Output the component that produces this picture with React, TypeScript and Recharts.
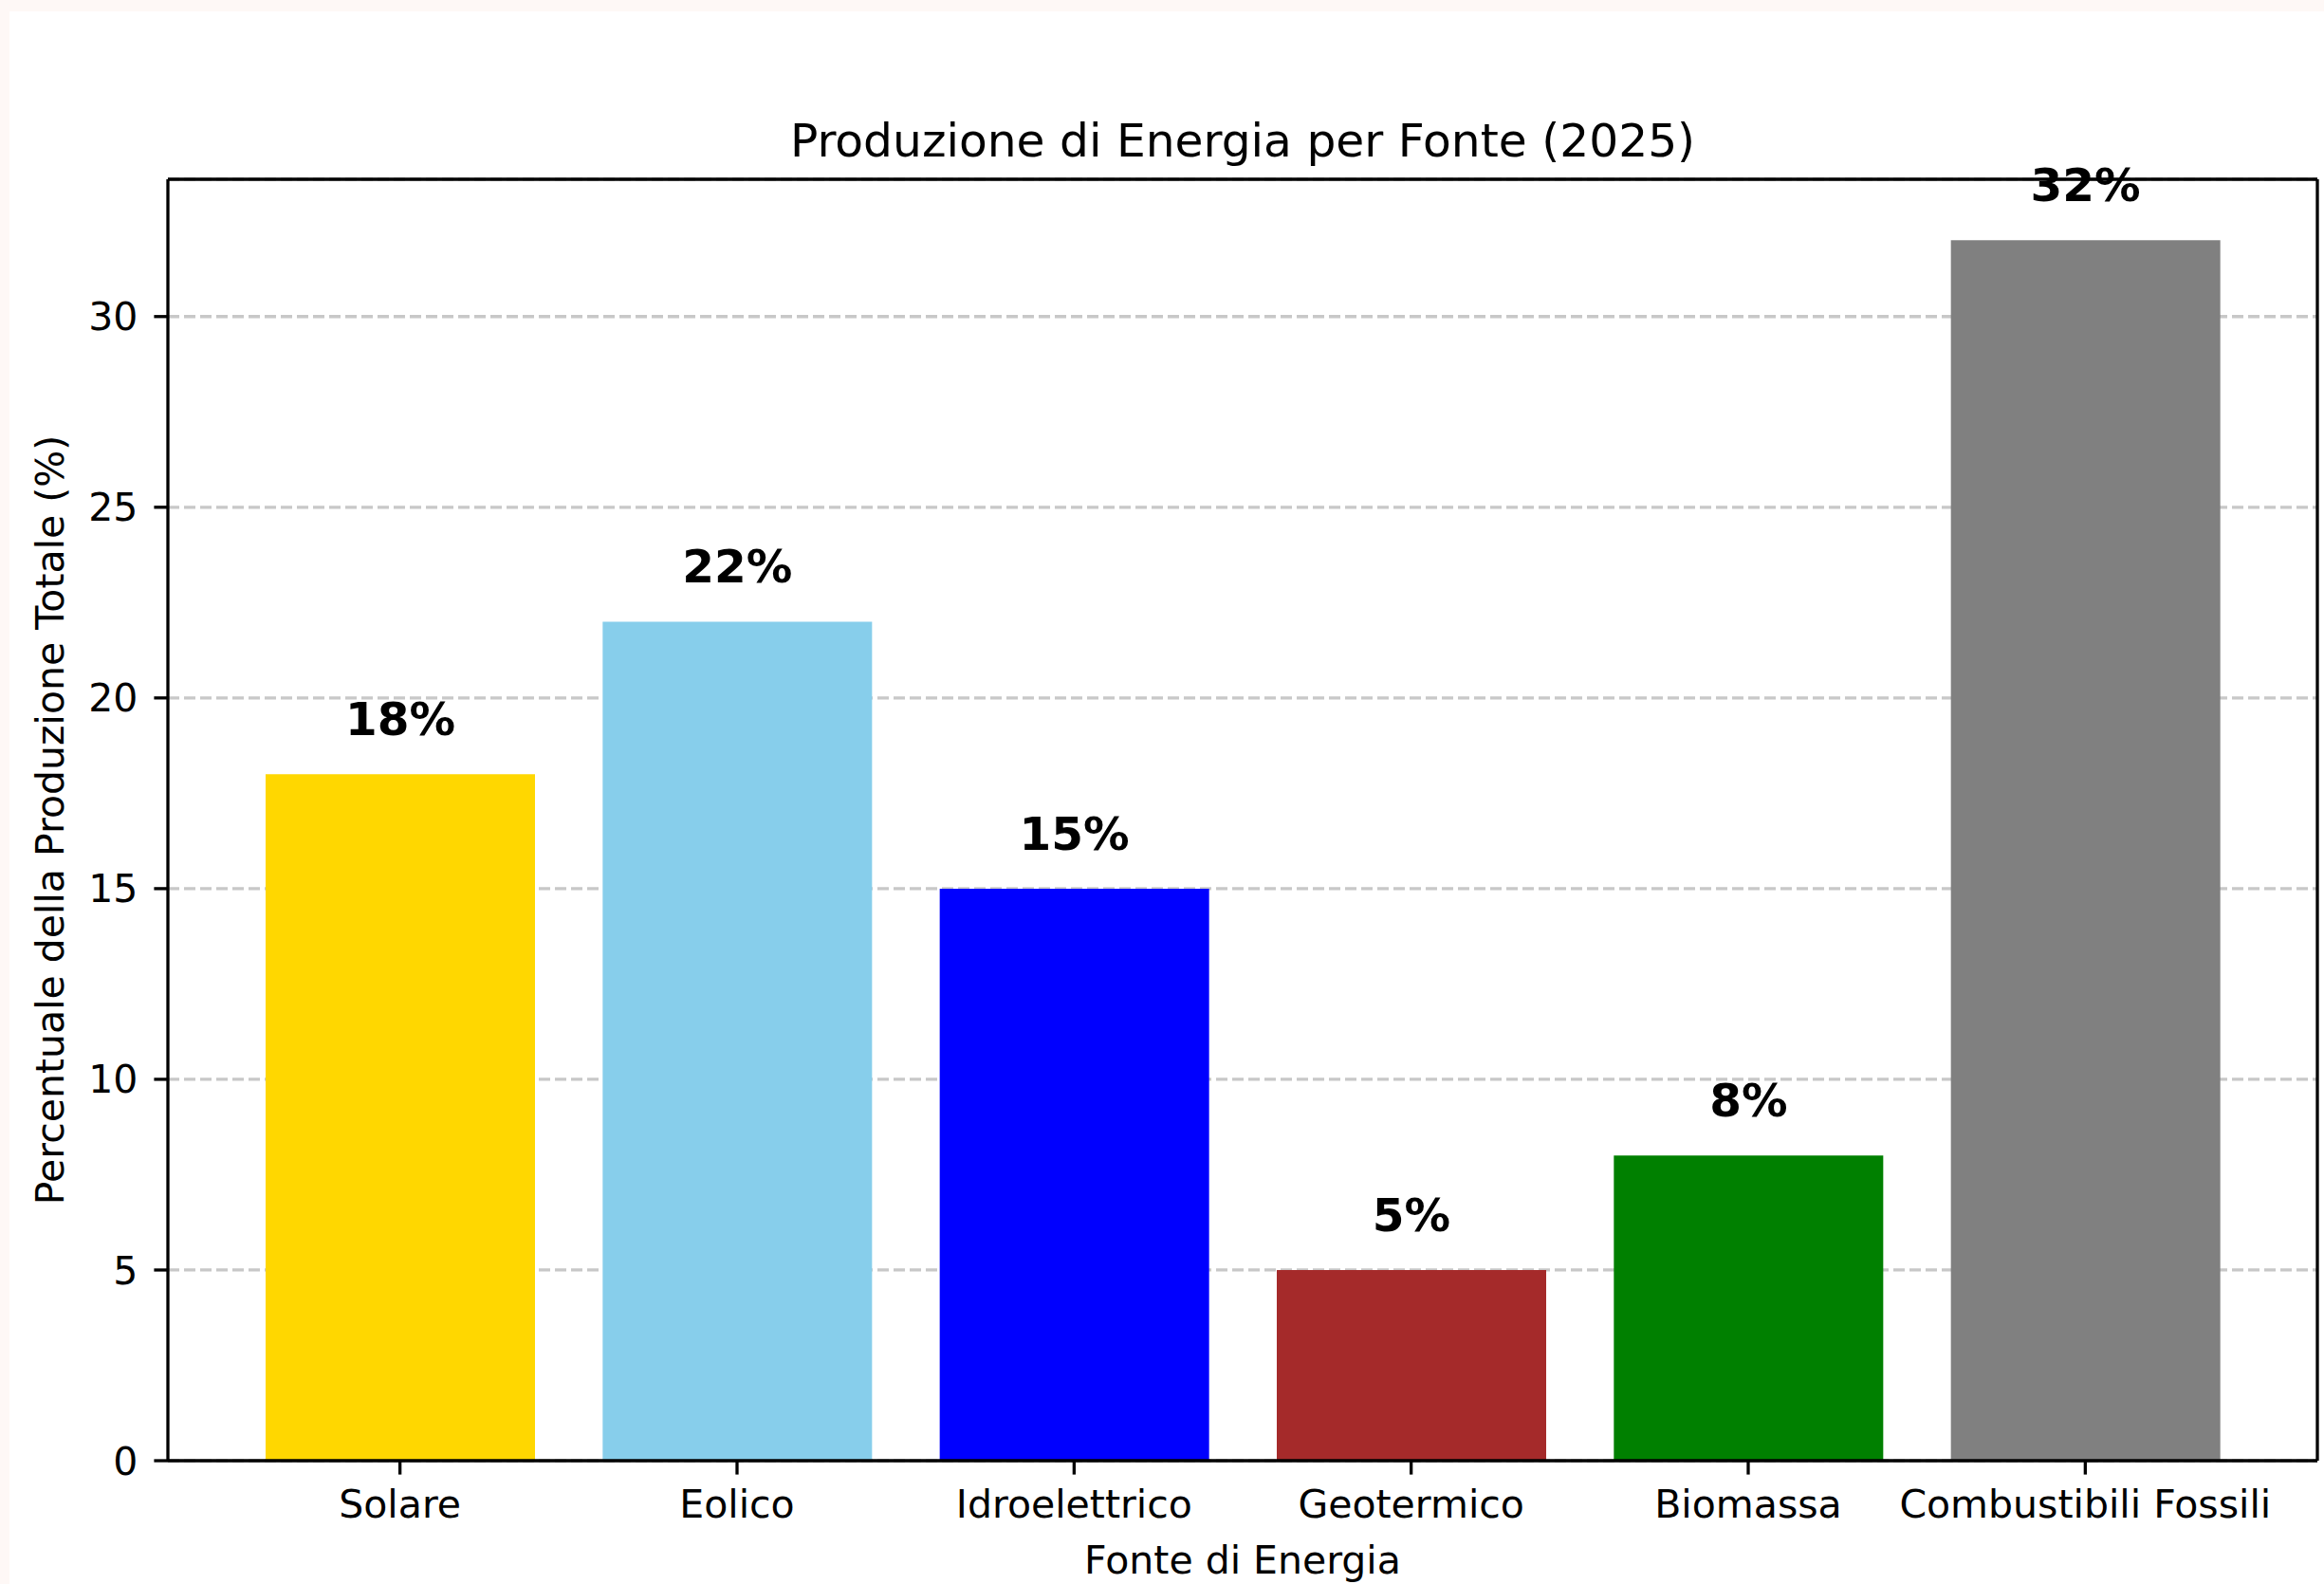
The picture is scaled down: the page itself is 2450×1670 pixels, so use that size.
import { BarChart, Bar, XAxis, YAxis, CartesianGrid, Cell, LabelList, Label } from 'recharts';

// values
const SOURCES = ['Solare', 'Eolico', 'Idroelettrico', 'Geotermico', 'Biomassa', 'Combustibili Fossili'];
const SHARES = [18, 22, 15, 5, 8, 32];
const COLORS = ['#FFD700', '#87CEEB', '#0000FF', '#A52A2A', '#008000', '#808080'];
const Y_TICKS = [0, 5, 10, 15, 20, 25, 30];
const Y_MAX = 33.6; // 32 * 1.05, matplotlib-style headroom

const TITLE = 'Produzione di Energia per Fonte (2025)';
const X_LABEL = 'Fonte di Energia';
const Y_LABEL = 'Percentuale della Produzione Totale (%)';

const data = SOURCES.map((name, i) => ({ name, share: SHARES[i] }));

const FONT = '"DejaVu Sans", Verdana, sans-serif';
const LW = 3.3;
const TEXT = { fill: '#000', fontSize: 41, fontFamily: FONT };

function TitleLabel(props: any) {
  const vb = props.viewBox || {};
  return (
    <text x={vb.x + vb.width / 2} y={vb.y + vb.height - 24} textAnchor="middle" fill="#000" fontSize={48.7} fontFamily={FONT}>
      {TITLE}
    </text>
  );
}

function XAxisTitle(props: any) {
  const vb = props.viewBox || {};
  return (
    <text x={vb.x + vb.width / 2} y={vb.y + 119} textAnchor="middle" fill="#000" fontSize={41} fontFamily={FONT}>
      {X_LABEL}
    </text>
  );
}

function YAxisTitle(props: any) {
  const vb = props.viewBox || {};
  const x = 67;
  const y = vb.y + vb.height / 2;
  return (
    <text x={x} y={y} transform={`rotate(-90, ${x}, ${y})`} textAnchor="middle" fill="#000" fontSize={41} fontFamily={FONT}>
      {Y_LABEL}
    </text>
  );
}

export default function App() {
  return (
    <div style={{ position: 'absolute', left: 0, top: 0, width: 2450, height: 1670, background: '#fef8f6' }}>
      <div style={{ position: 'absolute', left: 10, top: 12, right: 0, bottom: 0, background: '#fff' }} />
      <div style={{ position: 'absolute', left: 0, top: 0 }}>
        <BarChart
          width={2450}
          height={1670}
          data={data}
          margin={{ top: 188, right: 6, bottom: 0, left: 0 }}
          style={{ fontFamily: FONT }}
        >
          <CartesianGrid vertical={false} stroke="#c8c8c8" strokeWidth={LW} strokeDasharray="12 5" />
          <XAxis
            dataKey="name"
            height={130}
            padding={{ left: 67, right: 67 }}
            axisLine={{ stroke: '#000', strokeWidth: LW }}
            tickLine={{ stroke: '#000', strokeWidth: LW }}
            tickSize={14.6}
            tickMargin={16}
            tick={TEXT}
            interval={0}
          >
            <Label content={<XAxisTitle />} />
          </XAxis>
          <XAxis
            xAxisId="top"
            dataKey="name"
            orientation="top"
            height={1}
            padding={{ left: 67, right: 67 }}
            axisLine={{ stroke: '#000', strokeWidth: LW }}
            tick={false}
            tickLine={false}
          >
            <Label content={<TitleLabel />} />
          </XAxis>
          <YAxis
            width={177}
            domain={[0, Y_MAX]}
            ticks={Y_TICKS}
            allowDataOverflow
            axisLine={{ stroke: '#000', strokeWidth: LW }}
            tickLine={{ stroke: '#000', strokeWidth: LW }}
            tickSize={14.6}
            tickMargin={17}
            tick={TEXT}
          >
            <Label content={<YAxisTitle />} />
          </YAxis>
          <YAxis
            yAxisId="right"
            orientation="right"
            width={1}
            domain={[0, 1]}
            axisLine={{ stroke: '#000', strokeWidth: LW }}
            tick={false}
            tickLine={false}
          />
          <Bar dataKey="share" barSize={284} isAnimationActive={false}>
            {data.map((d, i) => (
              <Cell key={d.name} fill={COLORS[i]} />
            ))}
            <LabelList
              dataKey="share"
              position="top"
              offset={41}
              formatter={(v: any) => `${v}%`}
              fill="#000"
              fontSize={48.5}
              fontWeight="bold"
              fontFamily={FONT}
            />
          </Bar>
        </BarChart>
      </div>
    </div>
  );
}
